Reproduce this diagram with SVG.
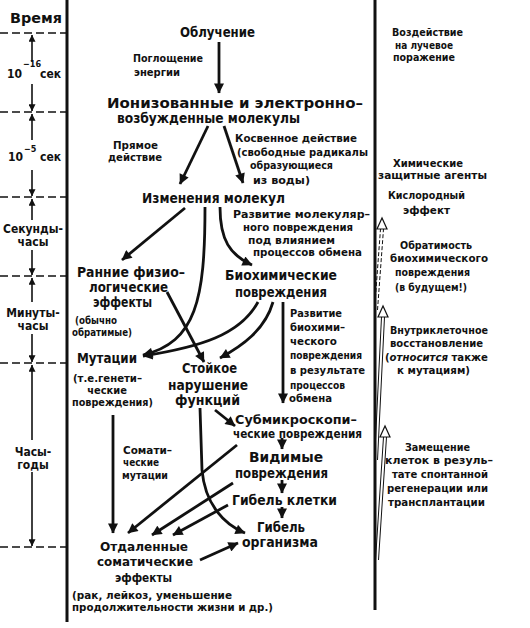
<svg xmlns="http://www.w3.org/2000/svg" width="530" height="628" viewBox="0 0 530 628">
<style>
text{font-family:"DejaVu Sans Condensed","DejaVu Sans","Liberation Sans",sans-serif;font-weight:bold;font-stretch:condensed;fill:#111}
.n{font-size:13.5px}
.m{font-size:12.5px}
.l{font-size:11px}
.t{font-size:12px}
.sup{font-size:9px}
.c{text-anchor:middle}
.ax{stroke:#111;stroke-width:3;fill:none}
.dash{stroke:#111;stroke-width:1.6;stroke-dasharray:8 4;fill:none}
.a{stroke:#111;stroke-width:2.8;fill:none;marker-end:url(#ah)}
.as{stroke:#111;stroke-width:1.6;fill:none;marker-end:url(#ahs)}
.dbl{stroke:#111;stroke-width:1;fill:none}
.hh{fill:#fff;stroke:#111;stroke-width:1.2}
</style>
<defs>
<marker id="ah" viewBox="0 0 10 10" refX="9.5" refY="5" markerWidth="12" markerHeight="10" markerUnits="userSpaceOnUse" orient="auto"><path d="M0,0 L10,5 L0,10 Z" fill="#111"/></marker>
<marker id="ahs" viewBox="0 0 10 10" refX="9.5" refY="5" markerWidth="8" markerHeight="7" markerUnits="userSpaceOnUse" orient="auto"><path d="M0,0 L10,5 L0,10 Z" fill="#111"/></marker>
</defs>
<rect width="530" height="628" fill="#fff"/>

<g id="axes">
<line class="ax" x1="67" y1="0" x2="67" y2="622"/>
<line class="ax" x1="375" y1="0" x2="375" y2="610"/>
</g>

<g id="timescale">
<text class="n" x="10" y="23" textLength="52" lengthAdjust="spacingAndGlyphs">Время</text>
<line class="dash" x1="0" y1="33" x2="67" y2="33"/>
<line class="dash" x1="0" y1="112" x2="67" y2="112"/>
<line class="dash" x1="0" y1="197" x2="67" y2="197"/>
<line class="dash" x1="0" y1="276" x2="67" y2="276"/>
<line class="dash" x1="0" y1="363" x2="67" y2="363"/>
<line class="dash" x1="0" y1="547" x2="67" y2="547"/>
<path class="as" d="M32,62 L32,35"/><path class="as" d="M32,84 L32,111"/>
<path class="as" d="M32,140 L32,114"/><path class="as" d="M32,170 L32,196"/>
<path class="as" d="M32,220 L32,199"/><path class="as" d="M32,250 L32,275"/>
<path class="as" d="M32,302 L32,278"/><path class="as" d="M32,334 L32,362"/>
<path class="as" d="M32,440 L32,365"/><path class="as" d="M32,472 L32,546"/>
<text class="t" x="7" y="78">10</text><text class="sup" x="23" y="67">−16</text><text class="t" x="40" y="78">сек</text>
<text class="t" x="8" y="161">10</text><text class="sup" x="24" y="152">−5</text><text class="t" x="40" y="161">сек</text>
<text class="t c" x="33" y="233">Секунды-</text><text class="t c" x="33" y="246">часы</text>
<text class="t c" x="33" y="317">Минуты-</text><text class="t c" x="33" y="330">часы</text>
<text class="t c" x="33" y="456">Часы-</text><text class="t c" x="33" y="469">годы</text>
</g>

<g id="connectors">
<path class="a" d="M219,42 L219,93"/>
<path class="a" d="M208,126 L180,184"/>
<path class="a" d="M224,126 L243,183"/>
<path class="a" d="M185,208 L122,260"/>
<path class="a" d="M205,207 C205,300 196,342 143,355"/>
<path class="a" d="M220,207 C220,240 230,255 252,265"/>
<path class="a" d="M167,292 L204,362"/>
<path class="a" d="M258,302 C240,335 200,347 143,356"/>
<path class="a" d="M273,302 C265,330 242,346 220,358"/>
<path class="a" d="M283,302 L283,403"/>
<path class="a" d="M215,410 L235,426"/>
<path class="a" d="M113,415 L113,533"/>
<path class="a" d="M200,408 L202,470 C205,505 225,525 245,533"/>
<path class="a" d="M237,445 L128,533"/>
<path class="a" d="M282,438 L282,449"/>
<path class="a" d="M233,483 L152,535"/>
<path class="a" d="M282,480 L282,493"/>
<path class="a" d="M228,505 L173,535"/>
<path class="a" d="M282,507 L282,518"/>
<path class="a" d="M200,560 L238,543"/>
</g>

<g id="n-obl"><text class="n" x="180" y="37" textLength="75" lengthAdjust="spacingAndGlyphs">Облучение</text></g>
<g id="l-pogl">
<text class="l" x="133" y="62" textLength="70" lengthAdjust="spacingAndGlyphs">Поглощение</text>
<text class="l" x="134" y="76" textLength="46" lengthAdjust="spacingAndGlyphs">энергии</text>
</g>
<g id="n-ion">
<text class="n" x="107" y="108" textLength="256" lengthAdjust="spacingAndGlyphs">Ионизованные и электронно–</text>
<text class="n" x="117" y="123" textLength="183" lengthAdjust="spacingAndGlyphs">возбужденные молекулы</text>
</g>
<g id="l-pryam">
<text class="l" x="113" y="149" textLength="45" lengthAdjust="spacingAndGlyphs">Прямое</text>
<text class="l" x="108" y="161" textLength="54" lengthAdjust="spacingAndGlyphs">действие</text>
</g>
<g id="l-kosv">
<text class="l" x="235" y="142" textLength="122" lengthAdjust="spacingAndGlyphs">Косвенное действие</text>
<text class="l" x="237" y="156" textLength="131" lengthAdjust="spacingAndGlyphs">(свободные радикалы</text>
<text class="l" x="250" y="169" textLength="83" lengthAdjust="spacingAndGlyphs">образующиеся</text>
<text class="l" x="253" y="184" textLength="57" lengthAdjust="spacingAndGlyphs">из воды)</text>
</g>
<g id="n-izm"><text class="n" x="142" y="203" textLength="143" lengthAdjust="spacingAndGlyphs">Изменения молекул</text></g>
<g id="l-razv1">
<text class="l" x="233" y="218" textLength="137" lengthAdjust="spacingAndGlyphs">Развитие молекуляр–</text>
<text class="l" x="243" y="231" textLength="110" lengthAdjust="spacingAndGlyphs">ного повреждения</text>
<text class="l" x="248" y="244" textLength="87" lengthAdjust="spacingAndGlyphs">под влиянием</text>
<text class="l" x="253" y="256" textLength="109" lengthAdjust="spacingAndGlyphs">процессов обмена</text>
</g>
<g id="n-rann">
<text class="n" x="77" y="277" textLength="108" lengthAdjust="spacingAndGlyphs">Ранние физио–</text>
<text class="n" x="89" y="292" textLength="79" lengthAdjust="spacingAndGlyphs">логические</text>
<text class="n" x="93" y="307" textLength="59" lengthAdjust="spacingAndGlyphs">эффекты</text>
<text class="l" x="75" y="324" textLength="42" lengthAdjust="spacingAndGlyphs">(обычно</text>
<text class="l" x="72" y="336" textLength="60" lengthAdjust="spacingAndGlyphs">обратимые)</text>
</g>
<g id="n-bio">
<text class="n" x="225" y="280" textLength="112" lengthAdjust="spacingAndGlyphs">Биохимические</text>
<text class="n" x="235" y="297" textLength="92" lengthAdjust="spacingAndGlyphs">повреждения</text>
</g>
<g id="l-razv2">
<text class="l" x="290" y="317" textLength="52" lengthAdjust="spacingAndGlyphs">Развитие</text>
<text class="l" x="290" y="331" textLength="55" lengthAdjust="spacingAndGlyphs">биохими–</text>
<text class="l" x="290" y="345" textLength="47" lengthAdjust="spacingAndGlyphs">ческого</text>
<text class="l" x="290" y="359" textLength="72" lengthAdjust="spacingAndGlyphs">повреждения</text>
<text class="l" x="290" y="374" textLength="75" lengthAdjust="spacingAndGlyphs">в результате</text>
<text class="l" x="290" y="389" textLength="55" lengthAdjust="spacingAndGlyphs">процессов</text>
<text class="l" x="289" y="402" textLength="43" lengthAdjust="spacingAndGlyphs">обмена</text>
</g>
<g id="n-mut">
<text class="n" x="77" y="363" textLength="60" lengthAdjust="spacingAndGlyphs">Мутации</text>
<text class="l" x="73" y="382" textLength="69" lengthAdjust="spacingAndGlyphs">(т.е.генети–</text>
<text class="l c" x="107" y="394">ческие</text>
<text class="l" x="72" y="406" textLength="81" lengthAdjust="spacingAndGlyphs">повреждения)</text>
</g>
<g id="n-stoik">
<text class="n" x="182" y="373" textLength="55" lengthAdjust="spacingAndGlyphs">Стойкое</text>
<text class="n" x="168" y="390" textLength="80" lengthAdjust="spacingAndGlyphs">нарушение</text>
<text class="n" x="175" y="405" textLength="65" lengthAdjust="spacingAndGlyphs">функций</text>
</g>
<g id="n-submikro">
<text class="m" x="235" y="424" textLength="122" lengthAdjust="spacingAndGlyphs">Субмикроскопи–</text>
<text class="m" x="233" y="438" textLength="129" lengthAdjust="spacingAndGlyphs">ческие повреждения</text>
</g>
<g id="l-somat">
<text class="l" x="123" y="454" textLength="49" lengthAdjust="spacingAndGlyphs">Сомати–</text>
<text class="l" x="123" y="466" textLength="36" lengthAdjust="spacingAndGlyphs">ческие</text>
<text class="l" x="122" y="479" textLength="46" lengthAdjust="spacingAndGlyphs">мутации</text>
</g>
<g id="n-vid">
<text class="n" x="249" y="462" textLength="74" lengthAdjust="spacingAndGlyphs">Видимые</text>
<text class="n" x="235" y="478" textLength="93" lengthAdjust="spacingAndGlyphs">повреждения</text>
</g>
<g id="n-gibkl"><text class="n" x="232" y="505" textLength="105" lengthAdjust="spacingAndGlyphs">Гибель клетки</text></g>
<g id="n-giborg">
<text class="n" x="257" y="532" textLength="48" lengthAdjust="spacingAndGlyphs">Гибель</text>
<text class="n" x="242" y="547" textLength="76" lengthAdjust="spacingAndGlyphs">организма</text>
</g>
<g id="n-otdal">
<text class="m" x="100" y="551" textLength="88" lengthAdjust="spacingAndGlyphs">Отдаленные</text>
<text class="m" x="97" y="566" textLength="96" lengthAdjust="spacingAndGlyphs">соматические</text>
<text class="m" x="115" y="582" textLength="57" lengthAdjust="spacingAndGlyphs">эффекты</text>
<text class="l" x="72" y="599" textLength="160" lengthAdjust="spacingAndGlyphs">(рак, лейкоз, уменьшение</text>
<text class="l" x="72" y="611" textLength="201" lengthAdjust="spacingAndGlyphs">продолжительности жизни и др.)</text>
</g>

<g id="r-vozd">
<text class="l" x="392" y="36" textLength="71" lengthAdjust="spacingAndGlyphs">Воздействие</text>
<text class="l" x="395" y="49" textLength="58" lengthAdjust="spacingAndGlyphs">на лучевое</text>
<text class="l" x="393" y="61" textLength="62" lengthAdjust="spacingAndGlyphs">поражение</text>
</g>
<g id="r-him">
<text class="l" x="393" y="167" textLength="70" lengthAdjust="spacingAndGlyphs">Химические</text>
<text class="l" x="378" y="179" textLength="109" lengthAdjust="spacingAndGlyphs">защитные агенты</text>
</g>
<g id="r-kisl">
<text class="l" x="388" y="199" textLength="77" lengthAdjust="spacingAndGlyphs">Кислородный</text>
<text class="l" x="403" y="214" textLength="47" lengthAdjust="spacingAndGlyphs">эффект</text>
</g>
<g id="r-obr">
<text class="l" x="400" y="249" textLength="72" lengthAdjust="spacingAndGlyphs">Обратимость</text>
<text class="l" x="390" y="262" textLength="98" lengthAdjust="spacingAndGlyphs">биохимического</text>
<text class="l" x="395" y="276" textLength="75" lengthAdjust="spacingAndGlyphs">повреждения</text>
<text class="l" x="395" y="291" textLength="72" lengthAdjust="spacingAndGlyphs">(в будущем!)</text>
</g>
<g id="r-vnutr">
<text class="l" x="390" y="334" textLength="98" lengthAdjust="spacingAndGlyphs">Внутриклеточное</text>
<text class="l" x="390" y="347" textLength="93" lengthAdjust="spacingAndGlyphs">восстановление</text>
<text class="l" x="385" y="361" textLength="103" lengthAdjust="spacingAndGlyphs">(<tspan font-style="italic">относится</tspan> также</text>
<text class="l" x="397" y="374" textLength="73" lengthAdjust="spacingAndGlyphs">к мутациям)</text>
</g>
<g id="r-zam">
<text class="l" x="405" y="451" textLength="65" lengthAdjust="spacingAndGlyphs">Замещение</text>
<text class="l" x="385" y="464" textLength="108" lengthAdjust="spacingAndGlyphs">клеток в резуль–</text>
<text class="l" x="392" y="478" textLength="96" lengthAdjust="spacingAndGlyphs">тате спонтанной</text>
<text class="l" x="387" y="492" textLength="101" lengthAdjust="spacingAndGlyphs">регенерации или</text>
<text class="l" x="388" y="506" textLength="97" lengthAdjust="spacingAndGlyphs">трансплантации</text>
</g>

<g id="r-arrows">
<path class="dbl" stroke-dasharray="4 2" d="M374.5,310 L380.5,229 M377.5,310 L383.5,229"/>
<path class="hh" d="M382,218 L377,229 L387,229 Z"/>
<path class="dbl" d="M374.5,460 L381.5,317 M377.5,460 L384.5,317"/>
<path class="hh" d="M383,306 L378,317 L388,317 Z"/>
<path class="dbl" d="M375.5,560 L383.5,437 M378.5,560 L386.5,437"/>
<path class="hh" d="M385,426 L380,437 L390,437 Z"/>
</g>
</svg>
